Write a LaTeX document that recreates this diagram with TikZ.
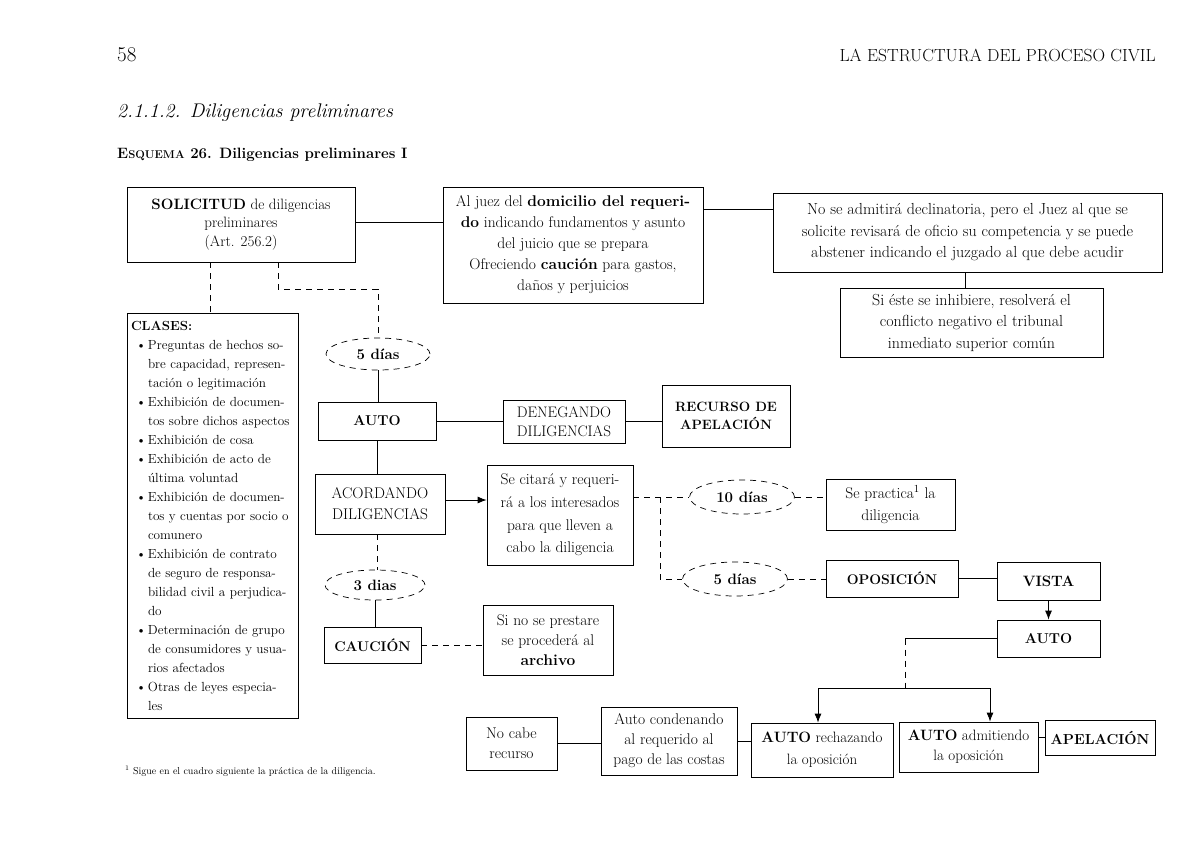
\documentclass[tikz,border=0pt]{standalone}
\usetikzlibrary{arrows.meta,calc,shapes.geometric}
\newcommand{\setfs}[2]{\fontsize{#1}{#2}\selectfont}
\newcommand{\bul}{\hspace*{5pt}\makebox[12pt][l]{\textbullet}}
\newcommand{\ind}{\hspace*{17pt}}
\tikzset{
  box/.style={draw, line width=0.8pt, inner sep=0pt, align=center},
  ell/.style={draw, ellipse, dash pattern=on 6pt off 5pt, line width=0.7pt, inner sep=0pt},
  ln/.style={line width=0.8pt},
  dln/.style={line width=0.8pt, dash pattern=on 6pt off 5pt},
  arr/.style={line width=0.8pt, -{Latex[length=9pt,width=7pt]}},
}
\begin{document}
\begin{tikzpicture}[x=1pt,y=-1pt]
\useasboundingbox (0,0) rectangle (1200,849);
% header
\node[anchor=west, inner sep=0pt] (pg) at (117,55) {\setfs{21}{24}58};
\node[anchor=east, inner sep=0pt] (hd) at (1156,55) {\setfs{17.5}{19}LA ESTRUCTURA DEL PROCESO CIVIL};
\node[anchor=west, inner sep=0pt] (sec) at (117,113) {\setfs{19.8}{22}\itshape 2.1.1.2. Diligencias preliminares};
\node[anchor=west, inner sep=0pt] (esq) at (117,155) {\setfs{15}{17}\bfseries E{\setfs{11.3}{13}SQUEMA} 26. Diligencias preliminares I};
\node[anchor=west, inner sep=0pt] (fn) at (125,771) {\setfs{10}{12}\textsuperscript{1} Sigue en el cuadro siguiente la práctica de la diligencia.};

% boxes
\node[box, minimum width=228pt, minimum height=75pt, font=\setfs{15}{18.5}] (A) at (241,224.5)
  {\textbf{SOLICITUD} de diligencias\\preliminares\\(Art. 256.2)};
\node[box, minimum width=260pt, minimum height=116pt, font=\setfs{15.5}{21}] (B) at (573,245)
  {Al juez del \textbf{domicilio del requeri-}\\\textbf{do} indicando fundamentos y asunto\\del juicio que se prepara\\Ofreciendo \textbf{caución} para gastos,\\daños y perjuicios};
\node[box, minimum width=389pt, minimum height=79pt, font=\setfs{16}{21.5}] (C) at (967.5,232.5)
  {No se admitirá declinatoria, pero el Juez al que se\\solicite revisará de oficio su competencia y se puede\\abstener indicando el juzgado al que debe acudir};
\node[box, minimum width=263pt, minimum height=69pt, font=\setfs{16}{21.5}] (D) at (971.5,322.5)
  {Si éste se inhibiere, resolverá el\\conflicto negativo el tribunal\\inmediato superior común};
\node[box, minimum width=171pt, minimum height=405pt, text width=163pt, align=left, font=\setfs{13.2}{19}] (E) at (212.5,515.5)
  {\textbf{CLASES:}\\
   \bul Preguntas de hechos so-\\\ind bre capacidad, represen-\\\ind tación o legitimación\\
   \bul Exhibición de documen-\\\ind tos sobre dichos aspectos\\
   \bul Exhibición de cosa\\
   \bul Exhibición de acto de\\\ind última voluntad\\
   \bul Exhibición de documen-\\\ind tos y cuentas por socio o\\\ind comunero\\
   \bul Exhibición de contrato\\\ind de seguro de responsa-\\\ind bilidad civil a perjudica-\\\ind do\\
   \bul Determinación de grupo\\\ind de consumidores y usua-\\\ind rios afectados\\
   \bul Otras de leyes especia-\\\ind les};
\node[ell, minimum width=104pt, minimum height=32pt, font=\setfs{15}{17}\bfseries] (F) at (378,354) {5 días};
\node[box, minimum width=118pt, minimum height=38pt, font=\setfs{14.3}{16}\bfseries] (G) at (377,421) {AUTO};
\node[box, minimum width=122pt, minimum height=43pt, font=\setfs{15.2}{19}] (H) at (564,421.5) {DENEGANDO\\DILIGENCIAS};
\node[box, minimum width=128pt, minimum height=62pt, font=\setfs{13.5}{18}\bfseries] (I) at (726,416) {RECURSO DE\\APELACIÓN};
\node[box, minimum width=130pt, minimum height=60pt, font=\setfs{15.5}{21}] (J) at (380,504) {ACORDANDO\\DILIGENCIAS};
\node[box, minimum width=146pt, minimum height=100pt, font=\setfs{15.5}{22.6}] (K) at (560,515)
  {Se citará y requeri-\\rá a los interesados\\para que lleven a\\cabo la diligencia};
\node[ell, minimum width=100pt, minimum height=30pt, font=\setfs{15}{17}\bfseries] (L) at (375,585) {3 dias};
\node[box, minimum width=97pt, minimum height=36pt, font=\setfs{14}{16}\bfseries] (M) at (372.5,645) {CAUCIÓN};
\node[box, minimum width=130pt, minimum height=70pt, font=\setfs{15.5}{20}] (N) at (548,640)
  {Si no se prestare\\se procederá al\\\textbf{archivo}};
\node[ell, minimum width=105pt, minimum height=34pt, font=\setfs{15}{17}\bfseries] (O) at (742,497) {10 días};
\node[box, minimum width=129pt, minimum height=51pt, font=\setfs{15.5}{22}] (P) at (890.5,504.5)
  {Se practica\textsuperscript{1} la\\diligencia};
\node[ell, minimum width=105pt, minimum height=34pt, font=\setfs{15}{17}\bfseries] (Q) at (735,579) {5 días};
\node[box, minimum width=132pt, minimum height=37pt, font=\setfs{14}{16}\bfseries] (R) at (892,578.5) {OPOSICIÓN};
\node[box, minimum width=103pt, minimum height=38pt, font=\setfs{15}{17}\bfseries] (S) at (1048.5,581) {VISTA};
\node[box, minimum width=103pt, minimum height=37pt, font=\setfs{14.3}{16}\bfseries] (T) at (1048.5,638.5) {AUTO};
\node[box, minimum width=91pt, minimum height=53pt, font=\setfs{15.5}{20}] (U) at (511.5,743.5) {No cabe\\recurso};
\node[box, minimum width=136pt, minimum height=68pt, font=\setfs{15.5}{20}] (V) at (669,741)
  {Auto condenando\\al requerido al\\pago de las costas};
\node[box, minimum width=142pt, minimum height=54pt, font=\setfs{15}{22}] (W) at (822,750)
  {\textbf{AUTO} rechazando\\la oposición};
\node[box, minimum width=139pt, minimum height=50pt, font=\setfs{15}{20}] (X) at (968.5,747)
  {\textbf{AUTO} admitiendo\\la oposición};
\node[box, minimum width=110pt, minimum height=35pt, font=\setfs{14.5}{16}\bfseries] (Y) at (1100,737.5) {APELACIÓN};

% helper coordinates
\coordinate (yAB) at (0,222);
\coordinate (yBC) at (0,209);
\coordinate (xCD) at (965,0);
\coordinate (xAE) at (210,0);
\coordinate (a1) at (278,289);
\coordinate (a2) at (378,289);
\coordinate (yJK) at (0,500);
\coordinate (br) at (660,497);
\coordinate (xt) at (905,0);
\coordinate (tb) at (905,688);
\coordinate (t1) at (818,688);
\coordinate (t2) at (990,688);

% connectors
\draw[ln] (A.east |- yAB) -- (B.west |- yAB);
\draw[ln] (B.east |- yBC) -- (C.west |- yBC);
\draw[ln] (C.south -| xCD) -- (D.north -| xCD);
\draw[dln] (A.south -| xAE) -- (E.north -| xAE);
\draw[dln] (A.south -| a1) -- (a1) -- (a2) -- (F.north);
\draw[ln] (F.south) -- (G.north -| F.south);
\draw[ln] (G.east) -- (H.west |- G.east);
\draw[ln] (H.east) -- (I.west |- H.east);
\draw[ln] (G.south) -- (J.north -| G.south);
\draw[arr] (J.east |- yJK) -- (K.west |- yJK);
\draw[dln] (J.south -| G.south) -- (L.north -| G.south);
\draw[ln] (L.south) -- (M.north -| L.south);
\draw[dln] (M.east) -- (N.west |- M.east);
\draw[dln] (K.east |- O.west) -- (O.west);
\draw[dln] (br) -- (br |- Q.west) -- (Q.west);
\draw[dln] (O.east) -- (P.west |- O.east);
\draw[dln] (Q.east) -- (R.west |- Q.east);
\draw[ln] (R.east) -- (S.west |- R.east);
\draw[arr] (S.south) -- (T.north);
\draw[ln] (T.west) -- (T.west -| xt);
\draw[dln] (T.west -| xt) -- (tb);
\draw[ln] (t1) -- (t2);
\draw[arr] (t1) -- (W.north -| t1);
\draw[arr] (t2) -- (X.north -| t2);
\draw[ln] (U.east) -- (V.west |- U.east);
\draw[ln] (V.east) -- (W.west |- V.east);
\draw[ln] (X.east |- Y.west) -- (Y.west);
\end{tikzpicture}
\end{document}
